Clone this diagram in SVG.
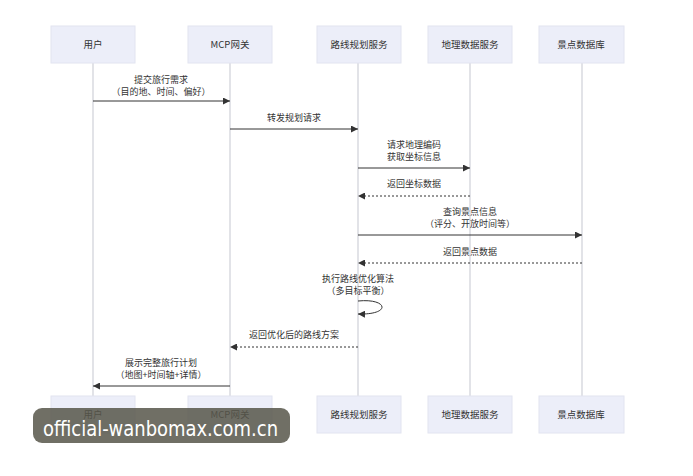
<svg xmlns="http://www.w3.org/2000/svg" width="693" height="476" viewBox="0 0 693 476">
<defs>
<style>
text{font-family:"Noto Sans CJK SC","Noto Sans",sans-serif;fill:#333;text-anchor:middle}
.box{fill:#eceef9;stroke:#e2e4f0;stroke-width:1}
.lbl{font-size:9.5px}
.msg{font-size:9px}
.life{stroke:#cfd0d8;stroke-width:1.2}
.solid{stroke:#333;stroke-width:1;fill:none}
.dash{stroke:#333;stroke-width:1;fill:none;stroke-dasharray:2,2}
.wm{font-family:"DejaVu Sans",sans-serif;font-size:21px;fill:#fff;text-anchor:start}
</style>
<marker id="ah" viewBox="0 0 10 10" refX="10" refY="5" markerWidth="7" markerHeight="7" orient="auto-start-reverse" markerUnits="userSpaceOnUse">
<path d="M0,0 L10,5 L0,10 z" fill="#333"/>
</marker>
</defs>
<rect width="693" height="476" fill="#fff"/>
<g id="lifelines">
<line class="life" x1="93" y1="63" x2="93" y2="396"/>
<line class="life" x1="230" y1="63" x2="230" y2="396"/>
<line class="life" x1="358" y1="63" x2="358" y2="396"/>
<line class="life" x1="470" y1="63" x2="470" y2="396"/>
<line class="life" x1="582" y1="63" x2="582" y2="396"/>
</g>
<g id="user">
<rect class="box" x="51" y="26" width="84" height="37"/>
<text class="lbl" x="93" y="48">用户</text>
<rect class="box" x="51" y="396" width="84" height="37"/>
<text class="lbl" x="93" y="418">用户</text>
</g>
<g id="gateway">
<rect class="box" x="188" y="26" width="84" height="37"/>
<text class="lbl" x="230" y="48">MCP网关</text>
<rect class="box" x="188" y="396" width="84" height="37"/>
<text class="lbl" x="230" y="418">MCP网关</text>
</g>
<g id="route">
<rect class="box" x="317" y="26" width="84" height="37"/>
<text class="lbl" x="359" y="48">路线规划服务</text>
<rect class="box" x="317" y="396" width="84" height="37"/>
<text class="lbl" x="359" y="418">路线规划服务</text>
</g>
<g id="geo">
<rect class="box" x="428" y="26" width="84" height="37"/>
<text class="lbl" x="470" y="48">地理数据服务</text>
<rect class="box" x="428" y="396" width="84" height="37"/>
<text class="lbl" x="470" y="418">地理数据服务</text>
</g>
<g id="poi">
<rect class="box" x="539" y="26" width="85" height="37"/>
<text class="lbl" x="581" y="48">景点数据库</text>
<rect class="box" x="539" y="396" width="85" height="37"/>
<text class="lbl" x="581" y="418">景点数据库</text>
</g>
<g id="connectors">
<line class="solid" x1="93" y1="101" x2="230" y2="101" marker-end="url(#ah)"/>
<text class="msg" x="161" y="83">提交旅行需求</text>
<text class="msg" x="161" y="95">（目的地、时间、偏好）</text>
<line class="solid" x1="230" y1="129" x2="358" y2="129" marker-end="url(#ah)"/>
<text class="msg" x="294" y="121">转发规划请求</text>
<line class="solid" x1="358" y1="168" x2="470" y2="168" marker-end="url(#ah)"/>
<text class="msg" x="414" y="148">请求地理编码</text>
<text class="msg" x="414" y="160">获取坐标信息</text>
<line class="dash" x1="470" y1="196" x2="358" y2="196" marker-end="url(#ah)"/>
<text class="msg" x="414" y="187">返回坐标数据</text>
<line class="solid" x1="358" y1="235" x2="582" y2="235" marker-end="url(#ah)"/>
<text class="msg" x="470" y="215">查询景点信息</text>
<text class="msg" x="470" y="227">（评分、开放时间等）</text>
<line class="dash" x1="582" y1="263" x2="358" y2="263" marker-end="url(#ah)"/>
<text class="msg" x="470" y="255">返回景点数据</text>
<path class="solid" d="M358,301 C388,298 392,315 358,314" marker-end="url(#ah)"/>
<text class="msg" x="358" y="282">执行路线优化算法</text>
<text class="msg" x="358" y="294">（多目标平衡）</text>
<line class="dash" x1="358" y1="347" x2="230" y2="347" marker-end="url(#ah)"/>
<text class="msg" x="294" y="338">返回优化后的路线方案</text>
<line class="solid" x1="230" y1="386" x2="93" y2="386" marker-end="url(#ah)"/>
<text class="msg" x="161" y="366">展示完整旅行计划</text>
<text class="msg" x="161" y="378">（地图+时间轴+详情）</text>
</g>
<g id="watermark">
<rect x="33" y="408" width="257" height="35" rx="9" fill="#57564a" fill-opacity="0.85"/>
<text class="wm" x="43" y="436" textLength="235" lengthAdjust="spacingAndGlyphs">official-wanbomax.com.cn</text>
</g>
</svg>
